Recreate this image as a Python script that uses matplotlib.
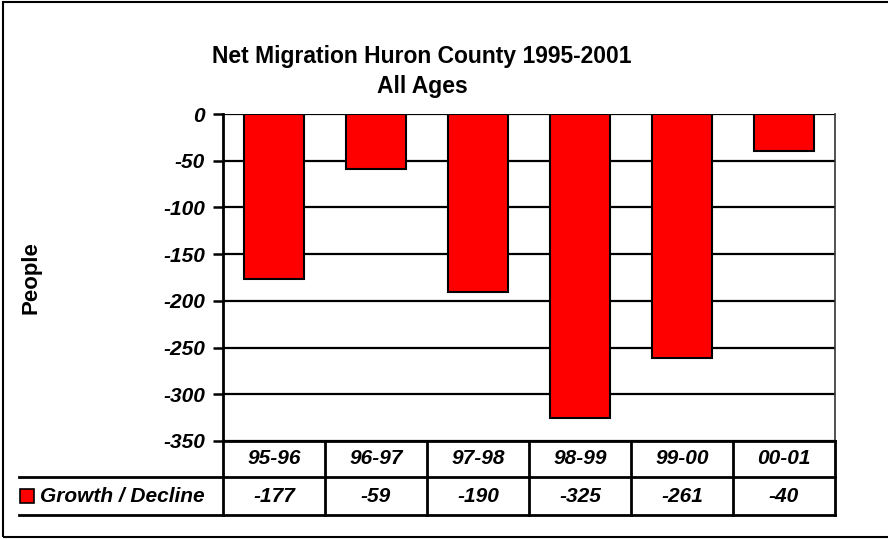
import matplotlib
matplotlib.use("Agg")
import matplotlib.pyplot as plt
from matplotlib.patches import Rectangle
from matplotlib.lines import Line2D
from matplotlib.transforms import blended_transform_factory

# ---------- data ----------
periods = ["95-96", "96-97", "97-98", "98-99", "99-00", "00-01"]
net_migration = [-177, -59, -190, -325, -261, -40]
series_name = "Growth / Decline"
y_ticks = [0, -50, -100, -150, -200, -250, -300, -350]

BAR_RED = "#ff0000"
plt.rcParams["font.family"] = ["Liberation Sans", "DejaVu Sans"]

W, H = 888, 539
fig = plt.figure(figsize=(W / 100, H / 100), dpi=100)

# plot area in pixel terms
left_px, right_px, top_px, bot_px = 223, 835, 114, 441
ax = fig.add_axes([left_px / W, 1 - bot_px / H,
                   (right_px - left_px) / W, (bot_px - top_px) / H])

x = list(range(len(periods)))
ax.bar(x, net_migration, width=0.58, color=BAR_RED, edgecolor="black",
       linewidth=1.5, zorder=3)

ax.set_xlim(-0.5, len(periods) - 0.5)
ax.set_ylim(min(y_ticks), max(y_ticks))
ax.set_yticks(y_ticks)
ax.set_yticklabels([str(v) for v in y_ticks], fontsize=15,
                   fontweight="bold", fontstyle="italic")
ax.set_xticks([])
ax.tick_params(axis="y", length=7, width=1.8, pad=6, color="black")
ax.yaxis.grid(True, color="black", linewidth=1.6, zorder=0)
ax.set_axisbelow(True)

for s in ["left", "bottom"]:
    ax.spines[s].set_linewidth(2)
ax.spines["top"].set_visible(False)
ax.spines["right"].set_color("#333333")
ax.spines["right"].set_linewidth(1.2)

ax.set_ylabel("People", fontsize=16, fontweight="bold")
ax.yaxis.set_label_coords((41 - left_px) / (right_px - left_px), 0.5)

# ---------- data table under the plot ----------
span = bot_px - top_px
def ay(px):
    return (bot_px - px) / span

trans = blended_transform_factory(ax.transData, ax.transAxes)
row1, row2 = 477, 515
label_left = (19 - left_px) / (right_px - left_px)

for yy in (row1, row2):
    ax.add_line(Line2D([label_left, 1], [ay(yy), ay(yy)], transform=ax.transAxes,
                       color="black", linewidth=2, clip_on=False))
for b in [i - 0.5 for i in x] + [len(periods) - 0.5]:
    ax.add_line(Line2D([b, b], [0, ay(row2)], transform=trans,
                       color="black", linewidth=2, clip_on=False))

for i, (p, v) in enumerate(zip(periods, net_migration)):
    ax.text(i, ay((bot_px + row1) / 2), p, transform=trans, ha="center",
            va="center", fontsize=15, fontweight="bold", fontstyle="italic")
    ax.text(i, ay((row1 + row2) / 2), str(v), transform=trans, ha="center",
            va="center", fontsize=15, fontweight="bold", fontstyle="italic")

# legend key + series name
key_y = (row1 + row2) / 2
fig.add_artist(Rectangle((20 / W, 1 - (key_y + 7) / H), 14 / W, 14 / H,
                         facecolor=BAR_RED, edgecolor="black", linewidth=1.2))
fig.text(40 / W, 1 - key_y / H, series_name, ha="left", va="center",
         fontsize=15, fontweight="bold", fontstyle="italic")

# ---------- title ----------
fig.text(422 / W, 1 - 57 / H, "Net Migration Huron County 1995-2001",
         ha="center", va="center", fontsize=16.5, fontweight="bold")
fig.text(422 / W, 1 - 87 / H, "All Ages",
         ha="center", va="center", fontsize=16.5, fontweight="bold")

# outer frame (right edge runs off the picture)
fig.add_artist(Rectangle((3 / W, 2 / H), 1.0, 1 - 4 / H, transform=fig.transFigure,
                         fill=False, edgecolor="black", linewidth=1.5))

fig.savefig("out.png", dpi=100)
